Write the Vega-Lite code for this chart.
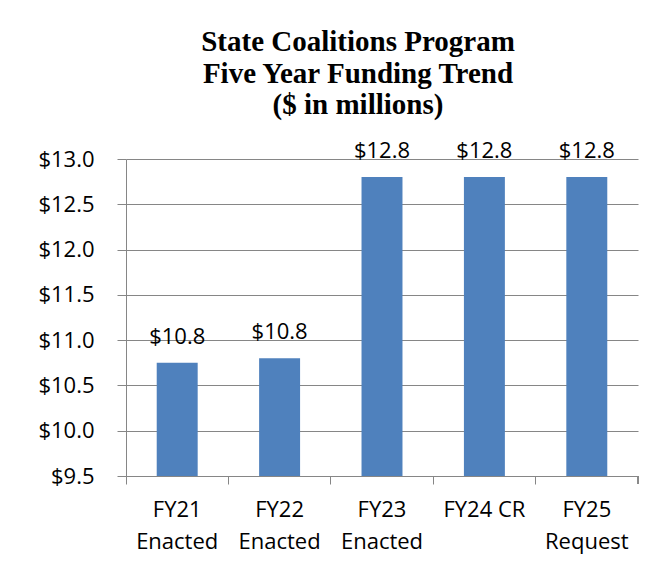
{
  "$schema": "https://vega.github.io/schema/vega-lite/v6.json",
  "width": 512,
  "height": 317,
  "autosize": {"type": "none"},
  "padding": {"left": 126, "top": 159, "right": 32, "bottom": 97},
  "background": "white",
  "title": {
    "text": ["State Coalitions Program", "Five Year Funding Trend", "($ in millions)"],
    "font": "Liberation Serif",
    "fontSize": 29,
    "fontWeight": "bold",
    "color": "#000000",
    "lineHeight": 31.5,
    "anchor": "middle",
    "frame": "group",
    "dx": -24,
    "offset": 20
  },
  "data": {
    "values": [
      {"year": "FY21|Enacted", "funding": 10.75},
      {"year": "FY22|Enacted", "funding": 10.8},
      {"year": "FY23|Enacted", "funding": 12.8},
      {"year": "FY24 CR", "funding": 12.8},
      {"year": "FY25|Request", "funding": 12.8}
    ]
  },
  "config": {
    "view": {"stroke": null},
    "font": "Open Sans"
  },
  "encoding": {
    "x": {
      "field": "year",
      "type": "nominal",
      "sort": null,
      "scale": {"paddingInner": 0, "paddingOuter": 0},
      "axis": {
        "title": null,
        "labelAngle": 0,
        "labelExpr": "split(datum.value, '|')",
        "labelFont": "Open Sans",
        "labelFontSize": 22,
        "labelColor": "#000000",
        "labelLineHeight": 32,
        "labelBaseline": "top",
        "labelPadding": 15,
        "bandPosition": 0,
        "tickSize": 8,
        "tickColor": "#868686",
        "domainColor": "#868686",
        "grid": false
      }
    },
    "y": {
      "field": "funding",
      "type": "quantitative",
      "scale": {"domain": [9.5, 13], "zero": false, "nice": false},
      "axis": {
        "title": null,
        "values": [9.5, 10, 10.5, 11, 11.5, 12, 12.5, 13],
        "format": "$.1f",
        "labelFont": "Open Sans",
        "labelFontSize": 22,
        "labelColor": "#000000",
        "labelPadding": 23,
        "tickSize": 9,
        "tickColor": "#868686",
        "domainColor": "#868686",
        "grid": true,
        "gridColor": "#868686",
        "gridOpacity": 1
      }
    }
  },
  "layer": [
    {
      "mark": {"type": "bar", "width": {"band": 0.4}, "color": "#4F81BD"},
      "encoding": {
        "y2": {"datum": 9.5}
      }
    },
    {
      "mark": {"type": "text", "dy": -19, "fontSize": 22, "font": "Open Sans", "color": "#000000", "baseline": "alphabetic"},
      "encoding": {
        "text": {"field": "funding", "type": "quantitative", "format": "$.1f"}
      }
    },
    {
      "mark": {"type": "rule", "color": "#868686", "strokeWidth": 1},
      "encoding": {
        "x": {"datum": "FY25|Request", "bandPosition": 1},
        "y": {"datum": 9.5},
        "y2": {"datum": 9.4117}
      }
    }
  ]
}
